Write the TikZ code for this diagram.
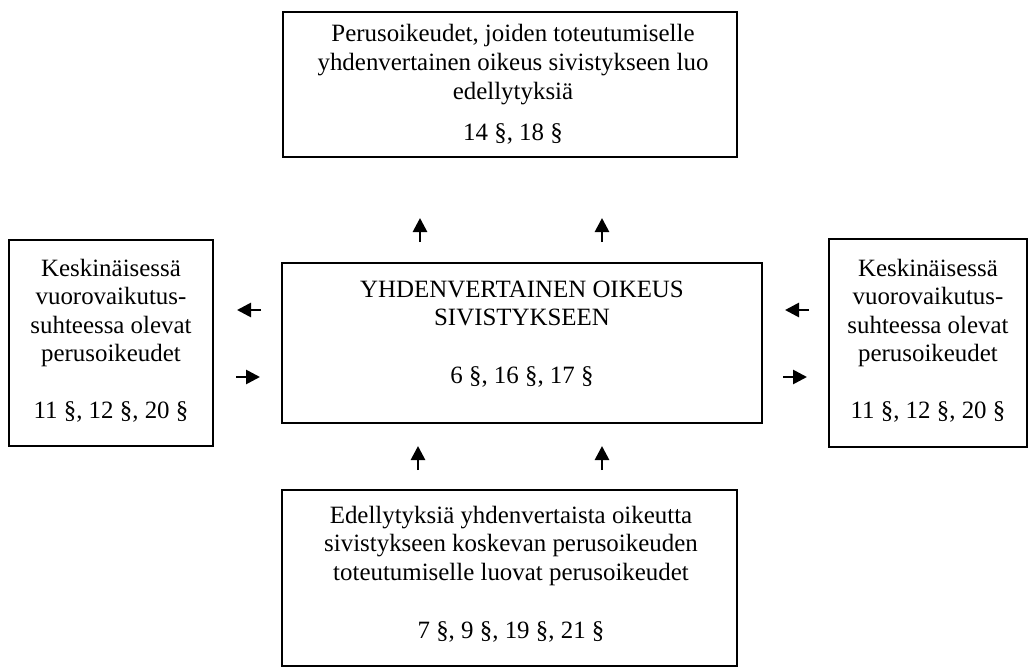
\documentclass[tikz,border=0pt]{standalone}
\usepackage{fontspec}
\setmainfont{Liberation Serif}
\usetikzlibrary{arrows.meta}
\tikzset{
  box/.style={draw=black, line width=1.6bp, inner sep=0pt},
  txt/.style={inner sep=0pt, anchor=base, font=\fontsize{25}{28.75}\selectfont},
  arr/.style={line width=2.7bp, -{Triangle[length=14bp,width=14bp]}},
}
\newcommand{\boxtext}[1]{\setlength{\tabcolsep}{0pt}\begin{tabular}[t]{c}#1\end{tabular}}
\begin{document}
\begin{tikzpicture}[x=1bp,y=-1bp]
\useasboundingbox (0,0) rectangle (1029,668);
% boxes
\node[box, minimum width=454bp, minimum height=145bp] (top) at (510,84.5) {};
\node[box, minimum width=480bp, minimum height=160bp] (mid) at (522,343) {};
\node[box, minimum width=455bp, minimum height=176bp] (bot) at (509.5,578) {};
\node[box, minimum width=204bp, minimum height=206bp] (left) at (111,343) {};
\node[box, minimum width=198bp, minimum height=208bp] (right) at (928,343) {};
% texts
\node[txt] (toptext) at (513,42) {\boxtext{Perusoikeudet, joiden toteutumiselle\\ yhdenvertainen oikeus sivistykseen luo\\ edellytyksiä\\[13bp] 14 §, 18 §}};
\node[txt] (midtext) at (522,297) {\boxtext{YHDENVERTAINEN OIKEUS\\ SIVISTYKSEEN\\[29bp] 6 §, 16 §, 17 §}};
\node[txt] (bottext) at (511,523) {\boxtext{Edellytyksiä yhdenvertaista oikeutta\\ sivistykseen koskevan perusoikeuden\\ toteutumiselle luovat perusoikeudet\\[30bp] 7 §, 9 §, 19 §, 21 §}};
\node[txt] (lefttext) at (111,276) {\boxtext{Keskinäisessä\\ vuorovaikutus-\\ suhteessa olevat\\ perusoikeudet\\[28bp] 11 §, 12 §, 20 §}};
\node[txt] (righttext) at (928,276) {\boxtext{Keskinäisessä\\ vuorovaikutus-\\ suhteessa olevat\\ perusoikeudet\\[28bp] 11 §, 12 §, 20 §}};
% arrow end points
\coordinate (u1s) at (420,242); \coordinate (u1e) at (420,218);
\coordinate (u2s) at (602,242); \coordinate (u2e) at (602,218);
\coordinate (u3s) at (418,470); \coordinate (u3e) at (418,446);
\coordinate (u4s) at (602,470); \coordinate (u4e) at (602,446);
\coordinate (l1s) at (261,310); \coordinate (l1e) at (237,310);
\coordinate (l2s) at (236,377); \coordinate (l2e) at (260,377);
\coordinate (r1s) at (809,310); \coordinate (r1e) at (785,310);
\coordinate (r2s) at (783,377); \coordinate (r2e) at (807,377);
% arrows
\draw[arr] (u1s) -- (u1e);
\draw[arr] (u2s) -- (u2e);
\draw[arr] (u3s) -- (u3e);
\draw[arr] (u4s) -- (u4e);
\draw[arr] (l1s) -- (l1e);
\draw[arr] (l2s) -- (l2e);
\draw[arr] (r1s) -- (r1e);
\draw[arr] (r2s) -- (r2e);
\end{tikzpicture}
\end{document}
